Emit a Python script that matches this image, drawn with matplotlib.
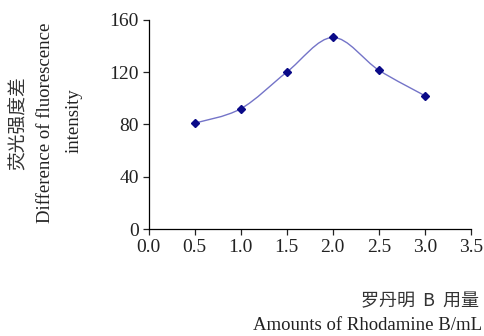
import matplotlib
matplotlib.use('Agg')
import matplotlib.pyplot as plt
from matplotlib.path import Path
from matplotlib.patches import PathPatch

# data
amounts = [0.5, 1.0, 1.5, 2.0, 2.5, 3.0]
diff_fluo = [81, 92, 120, 146.5, 121.5, 102]
x_ticks = [0.0, 0.5, 1.0, 1.5, 2.0, 2.5, 3.0, 3.5]
y_ticks = [0, 40, 80, 120, 160]

plt.rcParams['font.family'] = ['Liberation Serif', 'Noto Sans CJK SC']

fig = plt.figure(figsize=(4.84, 3.36), dpi=100)
ax = fig.add_axes([0.307, 0.318, 0.666, 0.623])

# smooth line like the excel "smoothed line" option (bezier through the points)
pts = list(zip(amounts, diff_fluo))
verts = [pts[0]]
codes = [Path.MOVETO]
for i in range(len(pts) - 1):
    p0 = pts[i - 1] if i > 0 else pts[i]
    p1 = pts[i]
    p2 = pts[i + 1]
    p3 = pts[i + 2] if i + 2 < len(pts) else pts[i + 1]
    c1 = (p1[0] + (p2[0] - p0[0]) / 6, p1[1] + (p2[1] - p0[1]) / 6)
    c2 = (p2[0] - (p3[0] - p1[0]) / 6, p2[1] - (p3[1] - p1[1]) / 6)
    verts += [c1, c2, p2]
    codes += [Path.CURVE4] * 3
ax.add_patch(PathPatch(Path(verts, codes), fill=False, edgecolor='#7474c8', lw=1.0))
ax.plot(amounts, diff_fluo, ls='none', marker='D', ms=4.2, color='#0a0a88')

ax.set_xlim(0, 3.5)
ax.set_ylim(0, 160)
ax.set_xticks(x_ticks)
ax.set_xticklabels(['%.1f' % t for t in x_ticks])
ax.set_yticks(y_ticks)
for s in ['top', 'right']:
    ax.spines[s].set_visible(False)
ax.spines['left'].set_linewidth(0.9)
ax.spines['bottom'].set_linewidth(0.9)
ax.tick_params(labelsize=14, length=4, width=0.9, colors='#222222', pad=3)

# y label, three vertical lines
fig.text(0.037, 0.634, '荧光强度差', rotation=90, ha='center', va='center',
         fontsize=13.5, family=['Noto Sans CJK SC'], color='#333333')
fig.text(0.094, 0.634, 'Difference of fluorescence', rotation=90, ha='center',
         va='center', fontsize=13.5, color='#222222')
fig.text(0.154, 0.64, 'intensity', rotation=90, ha='center', va='center',
         fontsize=13.5, color='#222222')

# x label
fig.text(0.99, 0.104, '罗丹明  B  用量', ha='right', va='center', fontsize=13,
         family=['Noto Sans CJK SC'], color='#333333')
fig.text(0.997, 0.03, 'Amounts of Rhodamine B/mL', ha='right', va='center',
         fontsize=13.5, color='#222222')

plt.savefig('out.png', dpi=100)
